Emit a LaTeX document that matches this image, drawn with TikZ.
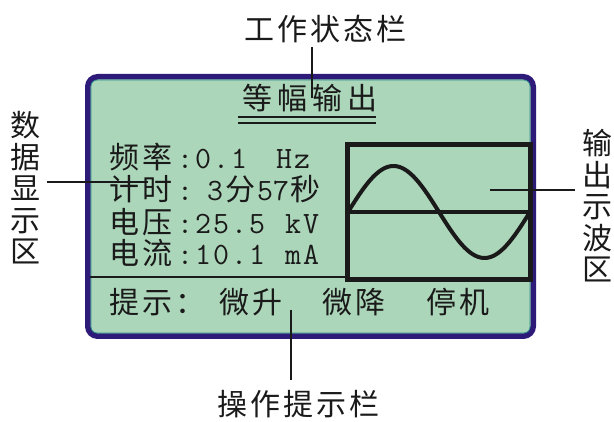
\documentclass[tikz,border=0pt]{standalone}
\usepackage{fontspec}
\newfontfamily\zh{Noto Sans CJK SC}
\newfontfamily\zhs[LetterSpace=10]{Noto Sans CJK SC}
\newfontfamily\zhw[LetterSpace=17]{Noto Sans CJK SC}
\newfontfamily\mo{Latin Modern Mono}
\newcommand\mc[2][18pt]{\makebox[#1][c]{\mo\fontsize{31}{31}\selectfont #2}}
\definecolor{navy}{HTML}{2E1A78}
\definecolor{lcd}{HTML}{ACD6B9}
\definecolor{rim}{HTML}{2A8A8A}
\definecolor{ink}{HTML}{1A1A1A}
\begin{document}
\begin{tikzpicture}[x=1pt,y=-1pt,
  txt/.style={inner sep=0pt,anchor=base west,text=ink,font=\fontsize{30}{31}\selectfont},
  vlabel/.style={inner sep=0pt,anchor=center,text=ink,align=center,font=\zh\fontsize{30}{31.5}\selectfont},
  pointer/.style={draw=ink,line width=1.5pt},
  scope/.style={draw=ink,line width=4.5pt}]
\useasboundingbox (0,0) rectangle (614,422);
% LCD panel
\draw[navy,line width=5.5pt,fill=lcd,rounded corners=10pt] (87.75,76.75) rectangle (533.25,336.25);
\draw[rim,line width=0.8pt,rounded corners=6pt] (91,80) rectangle (530,333);
% title
\node[txt] (title) at (242,110) {\zhw 等幅输出};
\draw[ink,line width=1.5pt] (238,117) -- (376,117);
\draw[ink,line width=1.5pt] (238,123) -- (376,123);
% data area
\node[txt] (l1) at (109,169) {\makebox[67pt][l]{\zhs 频率}\mc{:}\mc{0}\mc{.}\mc{1}\hspace{27pt}\mc{H}\mc{z}};
\node[txt] (l2) at (109,201) {\makebox[67pt][l]{\zhs 计时}\mc{:}\hspace{12pt}\mc{3}\makebox[33pt][c]{\zh 分}\mc[16pt]{5}\mc[16pt]{7}\makebox[33pt][c]{\zh 秒}};
\node[txt] (l3) at (109,234) {\makebox[67pt][l]{\zhs 电压}\mc{:}\mc{2}\mc{5}\mc{.}\mc{5}\hspace{18pt}\mc{k}\mc{V}};
\node[txt] (l4) at (109,265) {\makebox[67pt][l]{\zhs 电流}\mc{:}\mc{1}\mc{0}\mc{.}\mc{1}\hspace{18pt}\mc{m}\mc{A}};
% separator
\draw[ink,line width=2pt] (90,277) -- (347,277);
% oscilloscope
\draw[scope] (347.5,144.5) rectangle (530.5,279.5);
\draw[ink,line width=3.5pt] (347.5,212) -- (530.5,212);
\draw[ink,line width=4pt,line cap=round] plot[domain=0:360,samples=90] ({348+\x/360*182},{212-46*sin(\x)});
% prompt bar
\node[txt] (p0) at (109,314) {\zhs 提示：};
\node[txt] (p1) at (219,314) {\zhs 微升};
\node[txt] (p2) at (322,314) {\zhs 微降};
\node[txt] (p3) at (426,314) {\zhs 停机};
% labels
\node[txt] (top) at (244,41) {\zhs 工作状态栏};
\node[txt] (bot) at (217,416) {\zhs 操作提示栏};
\node[vlabel] (left) at (25.5,188) {数\\据\\显\\示\\区};
\node[vlabel] (right) at (597,206) {输\\出\\示\\波\\区};
% pointer lines
\coordinate (ta) at (312,47);  \coordinate (tb) at (312,98);
\coordinate (la) at (47,182);  \coordinate (lb) at (148,182);
\coordinate (ra) at (575,190); \coordinate (rb) at (490,190);
\coordinate (ba) at (291,380); \coordinate (bb) at (291,310);
\draw[pointer] (ta) -- (tb);
\draw[pointer] (la) -- (lb);
\draw[pointer] (ra) -- (rb);
\draw[pointer] (ba) -- (bb);
\end{tikzpicture}
\end{document}
